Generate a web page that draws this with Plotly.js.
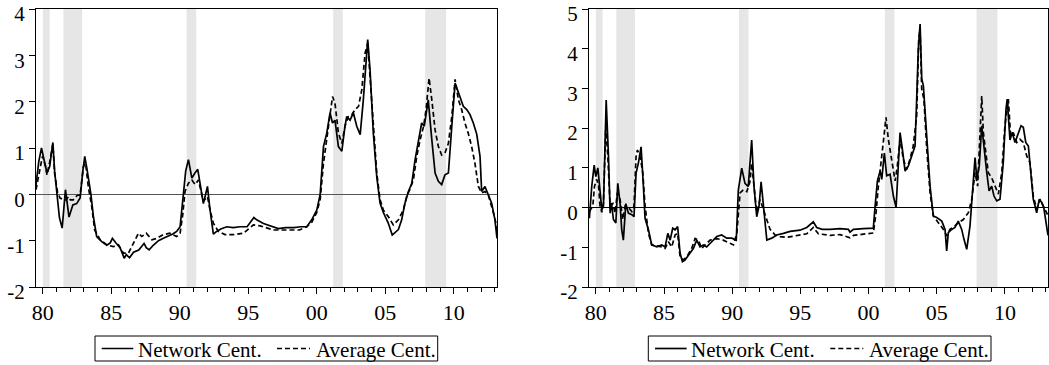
<!DOCTYPE html>
<html>
<head>
<meta charset="utf-8">
<script src="https://cdn.plot.ly/plotly-3.0.1.min.js"></script>
<style>html,body{margin:0;padding:0;background:#fff;}#chart{width:1049px;height:365px;}</style>
</head>
<body>
<div id="chart"></div>
<script>
// ---------- DATA ----------
const tickYears = [1980, 1985, 1990, 1995, 2000, 2005, 2010];
const tickLabels = ['80', '85', '90', '95', '00', '05', '10'];
const minorYears = [1981,1982,1983,1984,1986,1987,1988,1989,1991,1992,1993,1994,1996,1997,1998,1999,2001,2002,2003,2004,2006,2007,2008,2009,2011,2012,2013];
const recessionStart = [1980.0, 1981.5, 1990.5, 2001.2, 2007.92];
const recessionEnd   = [1980.5, 1982.87, 1991.2, 2001.9, 2009.45];
const leftYTicks = [-2, -1, 0, 1, 2, 3, 4];
const leftYLabels = ['-2', '-1', '0', '1', '2', '3', '4'];
const rightYTicks = [-2, -1, 0, 1, 2, 3, 4, 5];
const rightYLabels = ['-2', '-1', '0', '1', '2', '3', '4', '5'];
const seriesNames = ['Network Cent.', 'Average Cent.'];

// Left panel: Network centrality
const leftNetX = [1979.5,1979.7,1979.9,1980.05,1980.3,1980.5,1980.73,1980.86,1981.01,1981.21,1981.41,1981.65,1981.91,1982.19,1982.47,1982.72,1982.92,1983.06,1983.22,1983.51,1983.7,1983.93,1984.3,1984.67,1984.92,1985.08,1985.34,1985.64,1985.94,1986.09,1986.33,1986.62,1987.0,1987.39,1987.55,1987.76,1988.06,1988.44,1988.8,1989.17,1989.52,1989.77,1990.02,1990.26,1990.43,1990.63,1990.88,1991.08,1991.31,1991.72,1992.02,1992.19,1992.45,1992.69,1992.99,1993.43,1993.9,1994.4,1994.91,1995.41,1995.61,1996.11,1996.82,1997.19,1997.73,1998.33,1998.84,1999.27,1999.63,2000.0,2000.25,2000.35,2000.49,2000.73,2000.97,2001.15,2001.33,2001.58,2001.83,2002.06,2002.19,2002.43,2002.67,2002.92,2003.17,2003.4,2003.6,2003.72,2003.89,2004.13,2004.38,2004.62,2004.86,2005.22,2005.51,2005.72,2005.96,2006.2,2006.44,2006.69,2006.94,2007.18,2007.42,2007.66,2007.85,2008.03,2008.14,2008.4,2008.64,2008.88,2009.12,2009.36,2009.61,2009.86,2010.1,2010.22,2010.46,2010.7,2010.95,2011.19,2011.43,2011.68,2011.92,2012.04,2012.28,2012.53,2012.77,2013.01,2013.16];
const leftNetY = [0.2,0.7,1.0,0.8,0.46,0.6,1.12,0.5,0.05,-0.5,-0.73,0.1,-0.49,-0.23,-0.2,-0.08,0.5,0.82,0.55,0.0,-0.5,-0.91,-1.02,-1.1,-1.05,-0.95,-1.05,-1.15,-1.38,-1.3,-1.37,-1.25,-1.2,-1.06,-1.15,-1.2,-1.1,-1.0,-0.95,-0.9,-0.85,-0.8,-0.7,0.0,0.5,0.75,0.35,0.45,0.54,-0.2,0.17,-0.3,-0.86,-0.8,-0.75,-0.7,-0.72,-0.7,-0.7,-0.5,-0.55,-0.63,-0.71,-0.74,-0.72,-0.72,-0.7,-0.7,-0.55,-0.34,0.0,0.38,1.03,1.32,1.76,1.54,1.6,1.03,0.93,1.47,1.68,1.6,1.76,1.47,1.29,2.04,2.8,3.34,2.69,1.32,0.38,-0.19,-0.39,-0.62,-0.88,-0.83,-0.76,-0.55,-0.19,0.06,0.24,0.75,1.18,1.54,1.47,1.9,2.04,1.18,0.46,0.28,0.21,0.42,0.46,1.47,2.4,2.3,2.11,1.9,1.83,1.72,1.54,1.3,0.82,0.06,0.17,0.0,-0.19,-0.55,-0.95];

// Left panel: Average centrality
const leftAvgX = [1979.5,1979.8,1979.97,1980.2,1980.3,1980.5,1980.73,1980.86,1981.07,1981.26,1981.51,1981.71,1981.86,1982.01,1982.22,1982.52,1982.72,1982.96,1983.12,1983.32,1983.58,1983.78,1984.18,1984.67,1985.14,1985.52,1985.88,1986.25,1986.62,1986.98,1987.22,1987.55,1987.96,1988.32,1988.8,1989.27,1989.77,1990.02,1990.21,1990.38,1990.63,1990.88,1991.12,1991.36,1991.72,1992.02,1992.21,1992.45,1992.81,1993.3,1993.9,1994.65,1995.37,1995.87,1996.82,1997.83,1998.74,1999.27,1999.64,2000.0,2000.25,2000.49,2000.73,2000.97,2001.15,2001.33,2001.58,2001.83,2002.06,2002.31,2002.56,2002.8,2003.05,2003.29,2003.53,2003.72,2003.89,2004.13,2004.38,2004.62,2004.86,2005.22,2005.59,2005.96,2006.32,2006.57,2006.79,2007.06,2007.3,2007.55,2007.8,2007.98,2008.2,2008.4,2008.64,2008.88,2009.12,2009.36,2009.61,2009.86,2010.1,2010.34,2010.58,2010.82,2011.06,2011.31,2011.55,2011.8,2012.04,2012.28,2012.53,2012.89,2013.14,2013.16];
const leftAvgY = [0.1,0.6,0.82,0.6,0.42,0.7,1.08,0.45,0.05,-0.08,-0.12,-0.12,-0.05,-0.12,-0.12,-0.02,-0.02,0.6,0.67,0.16,-0.28,-0.77,-0.98,-1.09,-1.13,-1.09,-1.27,-1.27,-1.06,-0.84,-0.91,-0.84,-0.98,-0.95,-0.87,-0.84,-0.91,-0.84,-0.45,0.06,0.24,0.31,0.21,0.31,-0.15,-0.05,-0.34,-0.62,-0.8,-0.87,-0.87,-0.84,-0.66,-0.68,-0.77,-0.77,-0.77,-0.7,-0.6,-0.39,-0.11,0.67,1.18,1.68,2.11,1.97,1.32,1.1,1.47,1.68,1.72,1.83,1.9,2.26,3.05,3.26,2.55,1.32,0.46,-0.11,-0.34,-0.48,-0.66,-0.55,-0.34,-0.04,0.1,0.32,0.82,1.18,1.47,1.83,2.51,2.04,1.39,1.03,0.85,0.89,1.1,1.68,2.48,2.04,1.83,1.54,1.32,1.03,0.67,0.17,0.03,0.06,-0.02,-0.39,-0.69,-0.9];

// Right panel: Network centrality
const rightNetX = [1979.53,1979.7,1979.88,1980.0,1980.15,1980.31,1980.44,1980.56,1980.76,1980.93,1981.05,1981.15,1981.29,1981.47,1981.61,1981.78,1981.9,1982.02,1982.2,1982.39,1982.64,1982.8,1982.95,1983.12,1983.32,1983.49,1983.61,1983.86,1984.1,1984.47,1984.84,1985.08,1985.28,1985.45,1985.64,1985.81,1986.0,1986.18,1986.35,1986.54,1986.79,1987.15,1987.4,1987.64,1987.89,1988.13,1988.5,1988.87,1989.23,1989.6,1989.97,1990.3,1990.45,1990.7,1990.94,1991.18,1991.43,1991.6,1991.8,1991.97,1992.12,1992.29,1992.54,1992.9,1993.27,1993.76,1994.25,1994.97,1995.47,1995.95,1996.2,1996.6,1997.18,1997.91,1998.52,1998.64,1998.89,1999.62,2000.35,2000.48,2000.65,2000.85,2000.97,2001.16,2001.33,2001.58,2001.82,2002.02,2002.14,2002.31,2002.48,2002.68,2002.92,2003.17,2003.41,2003.53,2003.65,2003.78,2003.9,2004.02,2004.14,2004.31,2004.51,2004.75,2005.0,2005.37,2005.61,2005.73,2005.85,2006.1,2006.34,2006.58,2006.83,2007.0,2007.2,2007.44,2007.64,2007.81,2007.94,2008.12,2008.3,2008.42,2008.54,2008.67,2008.84,2009.03,2009.2,2009.4,2009.64,2009.88,2010.08,2010.17,2010.37,2010.54,2010.74,2010.98,2011.18,2011.35,2011.53,2011.72,2011.9,2012.08,2012.33,2012.52,2012.7,2012.85,2013.16];
const rightNetY = [-0.27,0.53,1.07,0.78,1.0,0.37,-0.06,0.04,2.71,1.28,-0.14,0.12,-0.3,-0.39,0.61,0.1,-0.56,-0.82,0.1,-0.14,-0.18,-0.23,0.86,1.12,1.53,0.53,-0.27,-0.56,-0.94,-0.99,-0.94,-0.99,-0.65,-0.82,-0.52,-0.56,-0.48,-1.15,-1.36,-1.32,-1.19,-1.03,-0.82,-0.99,-0.94,-0.99,-0.86,-0.73,-0.69,-0.77,-0.77,-0.82,0.44,0.99,0.61,0.53,1.7,0.53,-0.23,0.04,0.65,0.04,-0.82,-0.77,-0.69,-0.65,-0.6,-0.57,-0.5,-0.36,-0.5,-0.55,-0.55,-0.53,-0.55,-0.62,-0.55,-0.53,-0.52,0.03,0.67,0.92,0.71,1.37,0.8,0.84,0.29,0.0,0.71,1.89,1.47,0.92,1.05,1.3,1.55,2.73,3.99,4.62,3.24,3.07,2.48,1.47,0.54,-0.21,-0.25,-0.34,-0.55,-1.09,-0.63,-0.55,-0.5,-0.34,-0.55,-0.8,-1.05,-0.46,0.54,1.26,0.71,1.05,2.06,1.64,1.22,0.88,0.42,0.54,0.29,0.17,0.21,1.13,2.48,2.73,1.7,1.89,1.64,1.85,2.06,2.02,1.64,1.55,0.88,0.21,-0.13,0.21,0.13,0.0,-0.7];

// Right panel: Average centrality
const rightAvgX = [1979.53,1979.78,1979.9,1980.07,1980.2,1980.31,1980.44,1980.56,1980.73,1980.88,1981.05,1981.25,1981.41,1981.58,1981.78,1981.98,1982.15,1982.39,1982.64,1982.8,1982.95,1983.05,1983.25,1983.45,1983.61,1983.86,1984.1,1984.47,1984.84,1985.08,1985.32,1985.57,1985.81,1986.0,1986.18,1986.42,1986.67,1987.03,1987.28,1987.52,1987.77,1988.01,1988.38,1988.87,1989.35,1989.84,1990.09,1990.34,1990.58,1990.82,1991.07,1991.3,1991.43,1991.6,1991.8,1992.04,1992.29,1992.54,1992.78,1993.15,1993.51,1994.0,1994.97,1995.47,1995.95,1996.32,1997.2,1997.91,1998.64,1998.9,1999.62,2000.35,2000.55,2000.72,2000.97,2001.16,2001.28,2001.45,2001.7,2001.95,2002.11,2002.31,2002.55,2002.8,2003.04,2003.28,2003.53,2003.68,2003.78,2003.9,2004.06,2004.27,2004.51,2004.75,2005.12,2005.49,2005.73,2005.97,2006.34,2006.58,2006.95,2007.32,2007.57,2007.81,2008.0,2008.17,2008.3,2008.42,2008.6,2008.78,2009.03,2009.27,2009.52,2009.77,2010.0,2010.25,2010.42,2010.61,2010.87,2011.1,2011.35,2011.6,2011.84,2012.08,2012.33,2012.57,2012.82,2013.16];
const rightAvgY = [-0.1,0.04,0.53,0.71,0.55,0.04,-0.12,0.12,2.04,1.28,0.04,0.1,-0.14,0.37,0.2,-0.3,0.04,0.0,-0.1,0.04,1.28,1.45,1.28,0.86,0.04,-0.65,-0.94,-0.97,-0.99,-1.03,-0.86,-0.99,-0.69,-0.65,-1.24,-1.32,-1.24,-1.03,-0.78,-0.82,-1.03,-0.94,-0.82,-0.78,-0.82,-0.9,-0.94,-0.65,0.37,0.45,0.4,0.65,1.11,0.54,-0.12,0.2,-0.04,-0.3,-0.55,-0.69,-0.73,-0.75,-0.7,-0.66,-0.5,-0.66,-0.7,-0.68,-0.76,-0.7,-0.67,-0.64,-0.13,0.54,1.3,1.89,2.27,1.72,1.22,0.67,1.05,1.72,1.22,0.96,1.22,1.55,2.31,4.24,4.49,2.98,2.73,1.47,0.38,-0.21,-0.38,-0.55,-0.71,-0.55,-0.46,-0.38,-0.3,-0.13,0.21,0.88,0.54,1.89,2.81,1.89,1.3,0.88,0.75,0.54,0.34,0.88,2.06,2.73,1.81,1.89,1.64,1.72,1.64,1.3,1.13,0.29,-0.04,0.21,0.04,-0.2];

// ---------- CHART ----------
const FONT = '"Liberation Serif", "Times New Roman", Times, serif';
const xRange = [1979.5, 2013.16];
const solid = {color: '#000', width: 1.7};
const dashed = {color: '#000', width: 1.7, dash: '5px,3px'};

const traces = [
  {x: leftNetX, y: leftNetY, name: seriesNames[0], type: 'scatter', mode: 'lines', line: solid, xaxis: 'x', yaxis: 'y'},
  {x: leftAvgX, y: leftAvgY, name: seriesNames[1], type: 'scatter', mode: 'lines', line: dashed, xaxis: 'x', yaxis: 'y'},
  {x: rightNetX, y: rightNetY, name: seriesNames[0], type: 'scatter', mode: 'lines', line: solid, xaxis: 'x2', yaxis: 'y2'},
  {x: rightAvgX, y: rightAvgY, name: seriesNames[1], type: 'scatter', mode: 'lines', line: dashed, xaxis: 'x2', yaxis: 'y2'}
];

// plot area in pixels (matches margins below)
const M = {l: 36, r: 1, t: 9, b: 78};
const W = 1049, H = 365;
const PW = W - M.l - M.r, PH = H - M.t - M.b;
function px(x) { return (x - M.l) / PW; }
function py(y) { return (H - M.b - y) / PH; }

const shapes = [];
const annotations = [];
['x', 'x2'].forEach(function (xr) {
  const yr = xr === 'x' ? 'y domain' : 'y2 domain';
  for (let i = 0; i < recessionStart.length; i++) {
    shapes.push({type: 'rect', xref: xr, yref: yr, x0: recessionStart[i], x1: recessionEnd[i], y0: 0, y1: 1,
      fillcolor: '#e6e6e6', line: {width: 0}, layer: 'below'});
  }
});

// legend boxes (one under each panel)
[0, 553.3].forEach(function (off) {
  const top = 336, bot = 361, mid = 348.5;
  shapes.push({type: 'rect', xref: 'paper', yref: 'paper', x0: px(95 + off), x1: px(437.7 + off), y0: py(bot), y1: py(top),
    line: {color: '#000', width: 1}, fillcolor: 'rgba(0,0,0,0)'});
  shapes.push({type: 'line', xref: 'paper', yref: 'paper', x0: px(101.7 + off), x1: px(133.3 + off), y0: py(mid), y1: py(mid),
    line: {color: '#000', width: 1.7}});
  shapes.push({type: 'line', xref: 'paper', yref: 'paper', x0: px(277 + off), x1: px(310 + off), y0: py(mid), y1: py(mid),
    line: {color: '#000', width: 1.7, dash: '5px,3px'}});
  annotations.push({xref: 'paper', yref: 'paper', x: px(136 + off), y: py(mid + 1), xanchor: 'left', yanchor: 'middle',
    text: seriesNames[0], showarrow: false, font: {family: FONT, size: 21, color: '#000'}});
  annotations.push({xref: 'paper', yref: 'paper', x: px(314 + off), y: py(mid + 1), xanchor: 'left', yanchor: 'middle',
    text: seriesNames[1], showarrow: false, font: {family: FONT, size: 21, color: '#000'}});
});

function xAxis(domain, anchor) {
  return {
    domain: domain, anchor: anchor, range: xRange, tickmode: 'array', tickvals: tickYears, ticktext: tickLabels,
    ticks: 'outside', ticklen: 6, tickwidth: 1, tickcolor: '#000',
    minor: {tickmode: 'array', tickvals: minorYears, ticks: 'outside', ticklen: 4, tickwidth: 1, tickcolor: '#000', showgrid: false},
    showline: true, linecolor: '#000', linewidth: 1, mirror: true, showgrid: false, zeroline: false,
    ticklabeloverflow: 'allow',
    tickfont: {family: FONT, size: 22, color: '#000'}, fixedrange: true
  };
}
function yAxis(anchor, rng, vals, labels, zc) {
  return {
    anchor: anchor, domain: [0, 1], range: rng, tickmode: 'array', tickvals: vals, ticktext: labels,
    ticks: 'outside', ticklen: 6, tickwidth: 1, tickcolor: '#000',
    showline: true, linecolor: '#000', linewidth: 1, mirror: true, showgrid: false,
    zeroline: true, zerolinecolor: zc, zerolinewidth: 1,
    ticklabeloverflow: 'allow', ticklabelshift: 5,
    tickfont: {family: FONT, size: 21, color: '#000'}, fixedrange: true
  };
}

const layout = {
  width: W, height: H,
  margin: {l: M.l, r: M.r, t: M.t, b: M.b, pad: 0, autoexpand: false},
  paper_bgcolor: '#fff', plot_bgcolor: '#fff',
  font: {family: FONT, color: '#000'},
  showlegend: false,
  xaxis: xAxis([0, px(497)], 'y'),
  yaxis: yAxis('x', [-2, 4], leftYTicks, leftYLabels, '#555'),
  xaxis2: xAxis([px(589), 1], 'y2'),
  yaxis2: yAxis('x2', [-2, 5], rightYTicks, rightYLabels, '#000'),
  shapes: shapes,
  annotations: annotations
};

Plotly.newPlot('chart', traces, layout, {staticPlot: true, displayModeBar: false});
</script>
</body>
</html>
